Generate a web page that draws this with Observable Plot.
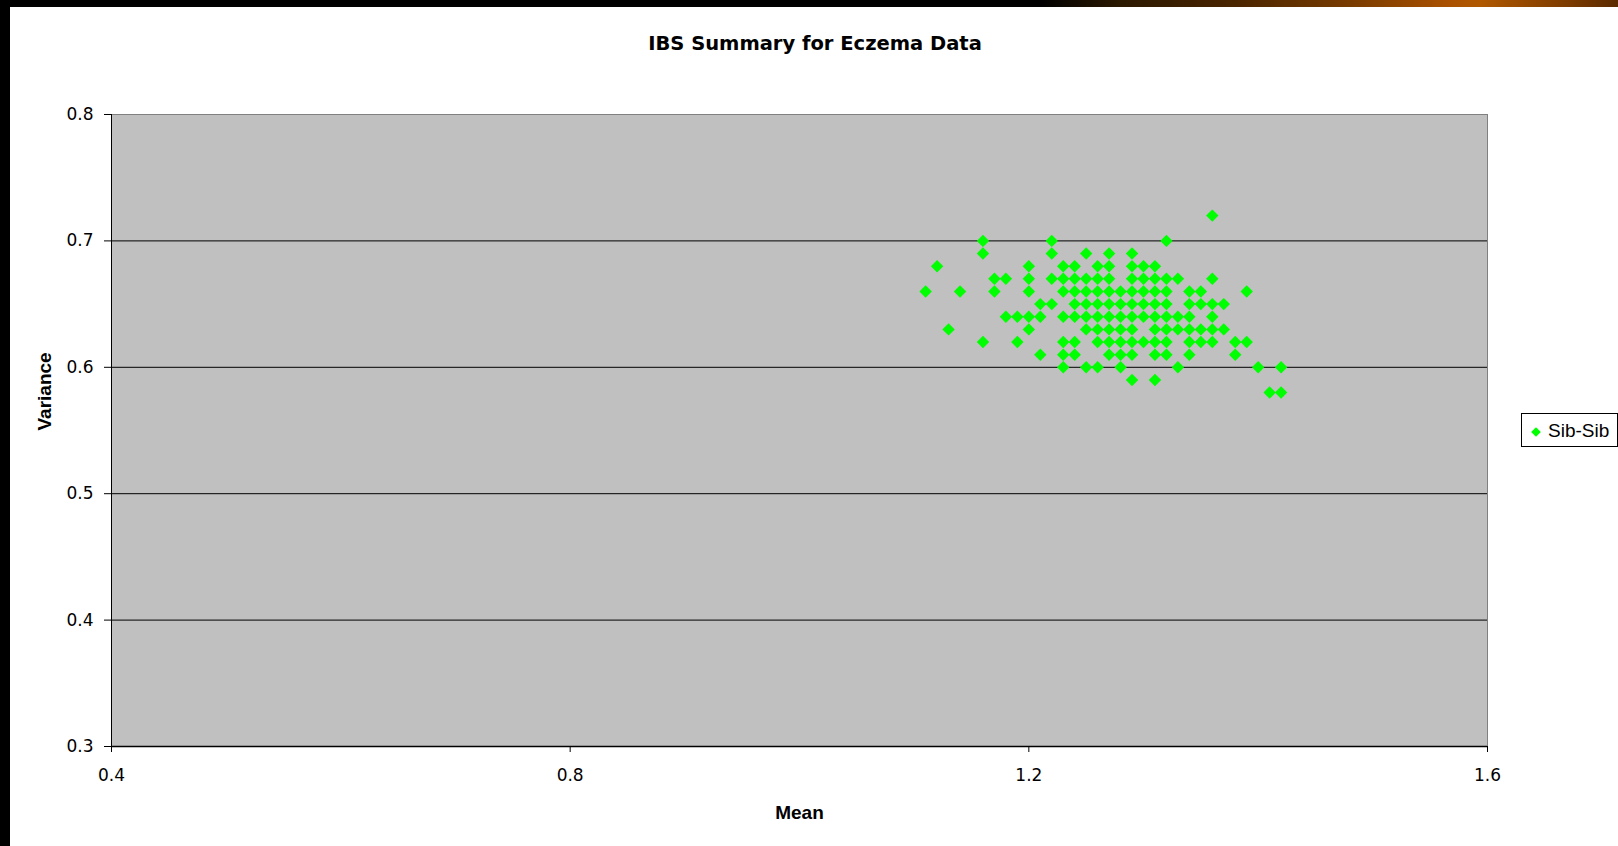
<!DOCTYPE html>
<html>
<head>
<meta charset="utf-8">
<script src="https://cdn.jsdelivr.net/npm/d3@7"></script>
<script src="https://cdn.jsdelivr.net/npm/@observablehq/plot@0.6"></script>
<style>
  html, body { margin: 0; padding: 0; background: #fff; width: 1618px; height: 846px; overflow: hidden; }
  #page { position: relative; width: 1618px; height: 846px; }
  #topbar { position: absolute; left: 0; top: 0; width: 1618px; height: 7px;
    background: linear-gradient(to right, #000 0px, #000 1040px, #2a1800 1118px, #4a2500 1236px, #7a3c00 1354px, #a85000 1445px, #b05800 1480px, #7a3a00 1571px, #5a2a00 1618px); z-index: 3; }
  #leftbar { position: absolute; left: 0; top: 0; width: 10px; height: 846px; background: #000; z-index: 3; }
  #title { position: absolute; left: 815px; top: 34px; transform: translateX(-50%); white-space: nowrap;
    font-family: "DejaVu Sans", sans-serif; font-weight: bold; font-size: 19.5px; line-height: 20px; color: #000; }
  #chart { position: absolute; left: 0; top: 0; }
  #legend { position: absolute; left: 1521px; top: 413px; width: 97px; height: 34px; box-sizing: border-box;
    border: 1px solid #000; background: #fff; }
  #legend svg { position: absolute; left: 0; top: 0; }
  #legend span { position: absolute; left: 26px; top: 7px; font-family: "Liberation Sans", Arial, sans-serif; font-size: 19px; line-height: 19px; color: #000; }
</style>
</head>
<body>
<div id="page">
  <div id="topbar"></div>
  <div id="leftbar"></div>
  <div id="chart"></div>
  <div id="title"></div>
  <div id="legend"></div>
</div>
<script>
// ---- data ----
const chartTitle = "IBS Summary for Eczema Data";
const xLabel = "Mean";
const yLabel = "Variance";
const seriesName = "Sib-Sib";
const xTicks = [0.4, 0.8, 1.2, 1.6];
const yTicks = [0.3, 0.4, 0.5, 0.6, 0.7, 0.8];
const gridLevels = [0.4, 0.5, 0.6, 0.7];

// variance levels (rows) and the mean values found on each row
const varianceLevels = [0.72, 0.70, 0.69, 0.68, 0.67, 0.66, 0.65, 0.64, 0.63, 0.62, 0.61, 0.60, 0.59, 0.58];
const meansAtLevel = [
  [1.36],
  [1.16, 1.22, 1.32],
  [1.16, 1.22, 1.25, 1.27, 1.29],
  [1.12, 1.20, 1.23, 1.24, 1.26, 1.27, 1.29, 1.30, 1.31],
  [1.17, 1.18, 1.20, 1.22, 1.23, 1.24, 1.25, 1.26, 1.27, 1.29, 1.30, 1.31, 1.32, 1.33, 1.36],
  [1.11, 1.14, 1.17, 1.20, 1.23, 1.24, 1.25, 1.26, 1.27, 1.28, 1.29, 1.30, 1.31, 1.32, 1.34, 1.35, 1.39],
  [1.21, 1.22, 1.24, 1.25, 1.26, 1.27, 1.28, 1.29, 1.30, 1.31, 1.32, 1.34, 1.35, 1.36, 1.37],
  [1.18, 1.19, 1.20, 1.21, 1.23, 1.24, 1.25, 1.26, 1.27, 1.28, 1.29, 1.30, 1.31, 1.32, 1.33, 1.34, 1.36],
  [1.13, 1.20, 1.25, 1.26, 1.27, 1.28, 1.29, 1.31, 1.32, 1.33, 1.34, 1.35, 1.36, 1.37],
  [1.16, 1.19, 1.23, 1.24, 1.26, 1.27, 1.28, 1.29, 1.30, 1.31, 1.32, 1.34, 1.35, 1.36, 1.38, 1.39],
  [1.21, 1.23, 1.24, 1.27, 1.28, 1.29, 1.31, 1.32, 1.34, 1.38],
  [1.23, 1.25, 1.26, 1.28, 1.33, 1.40, 1.42],
  [1.29, 1.31],
  [1.41, 1.42]
];

const points = varianceLevels.flatMap((v, i) => meansAtLevel[i].map(m => ({mean: m, variance: v})));

const green = "#00ff00";
const fmt = d3.format(".1f");

const chart = Plot.plot({
  width: 1618,
  height: 846,
  marginLeft: 111,
  marginRight: 131,
  marginTop: 114,
  marginBottom: 100,
  style: {background: "transparent", fontFamily: "'DejaVu Sans', sans-serif", fontSize: "17px", color: "#000", overflow: "visible"},
  x: {domain: [0.4, 1.6]},
  y: {domain: [0.3, 0.8]},
  marks: [
    Plot.frame({fill: "#c0c0c0", stroke: "#808080"}),
    Plot.ruleY(gridLevels, {stroke: "#000", strokeWidth: 1}),
    Plot.ruleX([0.4], {stroke: "#000", strokeWidth: 1}),
    Plot.ruleY([0.3], {stroke: "#000", strokeWidth: 1.5}),
    Plot.axisX({ticks: xTicks, tickFormat: fmt, tickSize: 6, tickPadding: 16, label: null, stroke: "#000"}),
    Plot.axisY({ticks: yTicks, tickFormat: fmt, tickSize: 7, tickPadding: 11, label: null, stroke: "#000"}),
    Plot.dot(points, {x: "mean", y: "variance", symbol: "diamond2", r: 5.6, fill: green, stroke: "none"}),
    Plot.text([xLabel], {frameAnchor: "bottom", dy: 72, fontWeight: "bold", fontSize: 19, fontFamily: "'Liberation Sans', Arial, sans-serif", fill: "#000"}),
    Plot.text([yLabel], {frameAnchor: "left", dx: -67, rotate: -90, fontWeight: "bold", fontSize: 19, fontFamily: "'Liberation Sans', Arial, sans-serif", fill: "#000"})
  ]
});
document.getElementById("chart").appendChild(chart);
document.getElementById("title").textContent = chartTitle;

// legend
const legend = document.getElementById("legend");
const ns = "http://www.w3.org/2000/svg";
const lsvg = document.createElementNS(ns, "svg");
lsvg.setAttribute("width", 30);
lsvg.setAttribute("height", 34);
const sym = document.createElementNS(ns, "path");
sym.setAttribute("d", d3.symbol(d3.symbolDiamond2, 60)());
sym.setAttribute("transform", "translate(14,18)");
sym.setAttribute("fill", green);
lsvg.appendChild(sym);
legend.appendChild(lsvg);
const lt = document.createElement("span");
lt.textContent = seriesName;
legend.appendChild(lt);
</script>
</body>
</html>
